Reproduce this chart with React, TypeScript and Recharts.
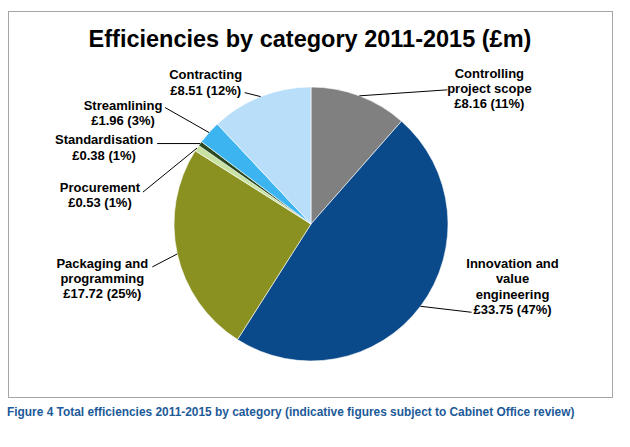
import React from 'react';
import { PieChart, Pie, Cell } from 'recharts';

const categories = [
  'Controlling project scope',
  'Innovation and value engineering',
  'Packaging and programming',
  'Procurement',
  'Standardisation',
  'Streamlining',
  'Contracting',
];
const values = [8.16, 33.75, 17.72, 0.53, 0.38, 1.96, 8.51];
const percents = [11, 47, 25, 1, 1, 3, 12];
const labelLines = [
  ['Controlling', 'project scope'],
  ['Innovation and', 'value', 'engineering'],
  ['Packaging and', 'programming'],
  ['Procurement'],
  ['Standardisation'],
  ['Streamlining'],
  ['Contracting'],
];
const colors = ['#808080', '#0B4A8A', '#8A9121', '#C8E2A2', '#2C4A1F', '#3CB4EF', '#B8DEFA'];

// label layout: leader-line end and text centre, relative to slice edge point
const labelLayout = [
  { lx: 88, ly: -6, tx: 130, ty: -23 },
  { lx: 51, ly: 6, tx: 92, ty: -43 },
  { lx: -25, ly: 13, tx: -75, ty: 9 },
  { lx: -54, ly: 44, tx: -97, ty: 39 },
  { lx: -43, ly: 0, tx: -96, ty: -4 },
  { lx: -44, ly: -25, tx: -86, ty: -27.5 },
  { lx: -16, ly: -4, tx: -55, ty: -22 },
];

const data = categories.map((name, i) => ({ name, value: values[i] }));

const RAD = Math.PI / 180;
const FONT = '"Liberation Sans", Arial, sans-serif';

const renderLabel = (props: any) => {
  const { cx, cy, midAngle, outerRadius, index } = props;
  const ex = cx + outerRadius * Math.cos(-midAngle * RAD);
  const ey = cy + outerRadius * Math.sin(-midAngle * RAD);
  const l = labelLayout[index];
  const lines = [...labelLines[index], `£${values[index].toFixed(2)} (${percents[index]}%)`];
  const lh = 15.3;
  return (
    <g key={`lbl-${index}`}>
      <line x1={ex} y1={ey} x2={ex + l.lx} y2={ey + l.ly} stroke="#000" strokeWidth={1} />
      <text
        x={ex + l.tx}
        y={ey + l.ty}
        textAnchor="middle"
        fontFamily={FONT}
        fontWeight="bold"
        fontSize={13}
        fill="#000"
      >
        {lines.map((t, k) => (
          <tspan key={k} x={ex + l.tx} y={ey + l.ty + 4.7 + k * lh}>
            {t}
          </tspan>
        ))}
      </text>
    </g>
  );
};

export default function App() {
  return (
    <div style={{ position: 'absolute', left: 0, top: 0, width: 630, height: 447, background: '#fff' }}>
      <svg width={630} height={447} style={{ position: 'absolute', left: 0, top: 0 }}>
        <rect x={8.5} y={11.5} width={604} height={386} fill="#fff" stroke="#a6a6a6" strokeWidth={1} />
        <text x={310} y={46.5} textAnchor="middle" fontFamily={FONT} fontWeight="bold" fontSize={23.5} fill="#000">
          Efficiencies by category 2011-2015 (£m)
        </text>
        <text x={7} y={415.5} fontFamily={FONT} fontWeight="bold" fontSize={11.9} fill="#1C5A98">
          Figure 4 Total efficiencies 2011-2015 by category (indicative figures subject to Cabinet Office review)
        </text>
      </svg>
      <div style={{ position: 'absolute', left: 0, top: 0 }}>
        <PieChart width={630} height={447} margin={{ top: 0, right: 0, bottom: 0, left: 0 }}>
          <Pie
            data={data}
            dataKey="value"
            nameKey="name"
            cx={311}
            cy={224}
            outerRadius={137}
            startAngle={90}
            endAngle={-270}
            stroke="#ffffff"
            strokeWidth={0.6}
            label={renderLabel}
            labelLine={false}
            isAnimationActive={false}
          >
            {data.map((d, i) => (
              <Cell key={d.name} fill={colors[i]} />
            ))}
          </Pie>
        </PieChart>
      </div>
    </div>
  );
}
